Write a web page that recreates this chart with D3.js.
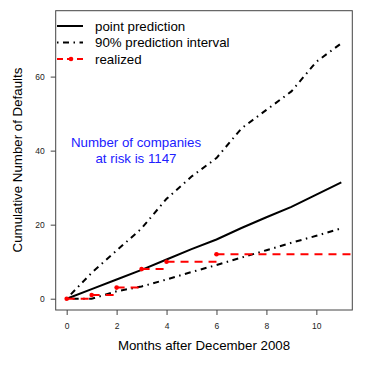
<!DOCTYPE html>
<html>
<head>
<meta charset="utf-8">
<script src="https://cdn.jsdelivr.net/npm/d3@7"></script>
<style>
  body { margin: 0; background: #fff; }
  svg { display: block; font-family: "Liberation Sans", Arial, sans-serif; }
</style>
</head>
<body>
<div id="chart"></div>
<script>
// months 0..11
const months = [0, 1, 2, 3, 4, 5, 6, 7, 8, 9, 10, 11];
const pointPrediction = [0, 2.6, 5.2, 7.8, 10.6, 13.4, 16, 19.1, 22, 24.8, 28.1, 31.4];
const upperBound = [0, 7, 13, 19, 27, 33, 38, 46, 51, 56, 64, 69];
const lowerBound = [0, 0, 2, 3.3, 5.2, 7.2, 9.1, 11.1, 13.1, 15.1, 17, 19];
// realized defaults (points where the count changed)
const realizedMonths = [0, 1, 2, 3, 4, 6];
const realizedValues = [0, 1, 3, 8, 10, 12];
const xTicks = [0, 2, 4, 6, 8, 10];
const yTicks = [0, 20, 40, 60];

const width = 374, height = 374;
const dotDash = "1.5 4.5 6 4.5";
const svg = d3.select("#chart").append("svg")
  .attr("width", width)
  .attr("height", height);

const x = d3.scaleLinear().domain([-0.44, 11.44]).range([55.7, 352.3]);
const y = d3.scaleLinear().domain([-3.05, 77.8]).range([310, 10.7]);

svg.append("clipPath").attr("id", "plotclip")
  .append("rect")
  .attr("x", x.range()[0]).attr("y", y.range()[1])
  .attr("width", x.range()[1] - x.range()[0])
  .attr("height", y.range()[0] - y.range()[1]);

// axes
const yAxis = svg.append("g")
  .attr("transform", `translate(${x.range()[0]},0)`)
  .call(d3.axisLeft(y).tickValues(yTicks).tickSize(5).tickPadding(6));
const xAxis = svg.append("g")
  .attr("transform", `translate(0,${y.range()[0]})`)
  .call(d3.axisBottom(x).tickValues(xTicks).tickSize(5).tickPadding(8));

[xAxis, yAxis].forEach(a => {
  a.select(".domain").remove();
  a.selectAll("line").attr("stroke", "#444");
  a.selectAll("text").attr("fill", "#222").style("font-size", "8.5px")
    .style("font-family", "Liberation Sans, Arial, sans-serif");
});

const plot = svg.append("g").attr("clip-path", "url(#plotclip)");

const line = d3.line()
  .x((d, i) => x(months[i]))
  .y(d => y(d));

[upperBound, lowerBound].forEach(series => {
  plot.append("path")
    .datum(series)
    .attr("d", line)
    .attr("fill", "none")
    .attr("stroke", "#000")
    .attr("stroke-width", 2)
    .attr("stroke-dasharray", dotDash);
});

plot.append("path")
  .datum(pointPrediction)
  .attr("d", line)
  .attr("fill", "none")
  .attr("stroke", "#000")
  .attr("stroke-width", 2);

// realized: horizontal dashed segments between changes
const realizedSegs = realizedMonths.map((m, i) => ({
  x0: m,
  x1: i < realizedMonths.length - 1 ? realizedMonths[i + 1] : 12,
  v: realizedValues[i]
}));

plot.selectAll("line.realized")
  .data(realizedSegs)
  .enter()
  .append("line")
  .attr("class", "realized")
  .attr("x1", d => x(d.x0))
  .attr("x2", d => x(d.x1))
  .attr("y1", d => y(d.v))
  .attr("y2", d => y(d.v))
  .attr("stroke", "#ff0000")
  .attr("stroke-width", 2)
  .attr("stroke-dasharray", "8 6");

plot.selectAll("circle.realized")
  .data(realizedSegs)
  .enter()
  .append("circle")
  .attr("cx", d => x(d.x0))
  .attr("cy", d => y(d.v))
  .attr("r", 2.3)
  .attr("fill", "#ff0000");

// box
svg.append("rect")
  .attr("x", x.range()[0]).attr("y", y.range()[1])
  .attr("width", x.range()[1] - x.range()[0])
  .attr("height", y.range()[0] - y.range()[1])
  .attr("fill", "none")
  .attr("stroke", "#444")
  .attr("stroke-width", 1);

// legend
const legendItems = [
  { label: "point prediction", dash: null, color: "#000", dot: false },
  { label: "90% prediction interval", dash: dotDash, color: "#000", dot: false },
  { label: "realized", dash: "6 4", color: "#ff0000", dot: true }
];
const legend = svg.append("g");
legendItems.forEach((d, i) => {
  const ly = 26 + i * 16.5;
  legend.append("line")
    .attr("x1", 57).attr("x2", 83)
    .attr("y1", ly).attr("y2", ly)
    .attr("stroke", d.color)
    .attr("stroke-width", 2)
    .attr("stroke-dasharray", d.dash);
  if (d.dot) {
    legend.append("circle").attr("cx", 71).attr("cy", ly).attr("r", 2.3).attr("fill", d.color);
  }
  legend.append("text")
    .attr("x", 95).attr("y", ly)
    .attr("dy", "0.35em")
    .style("font-size", "13.3px")
    .text(d.label);
});

// annotation
const note = svg.append("text")
  .attr("text-anchor", "middle")
  .attr("fill", "#2020ff")
  .style("font-size", "13.3px");
note.append("tspan").attr("x", 136).attr("y", 146.5).text("Number of companies");
note.append("tspan").attr("x", 136).attr("y", 163).text("at risk is 1147");

// axis titles
svg.append("text")
  .attr("x", 204).attr("y", 350)
  .attr("text-anchor", "middle")
  .style("font-size", "13.3px")
  .text("Months after December 2008");

svg.append("text")
  .attr("transform", `translate(22,160) rotate(-90)`)
  .attr("text-anchor", "middle")
  .style("font-size", "13.3px")
  .text("Cumulative Number of Defaults");
</script>
</body>
</html>
